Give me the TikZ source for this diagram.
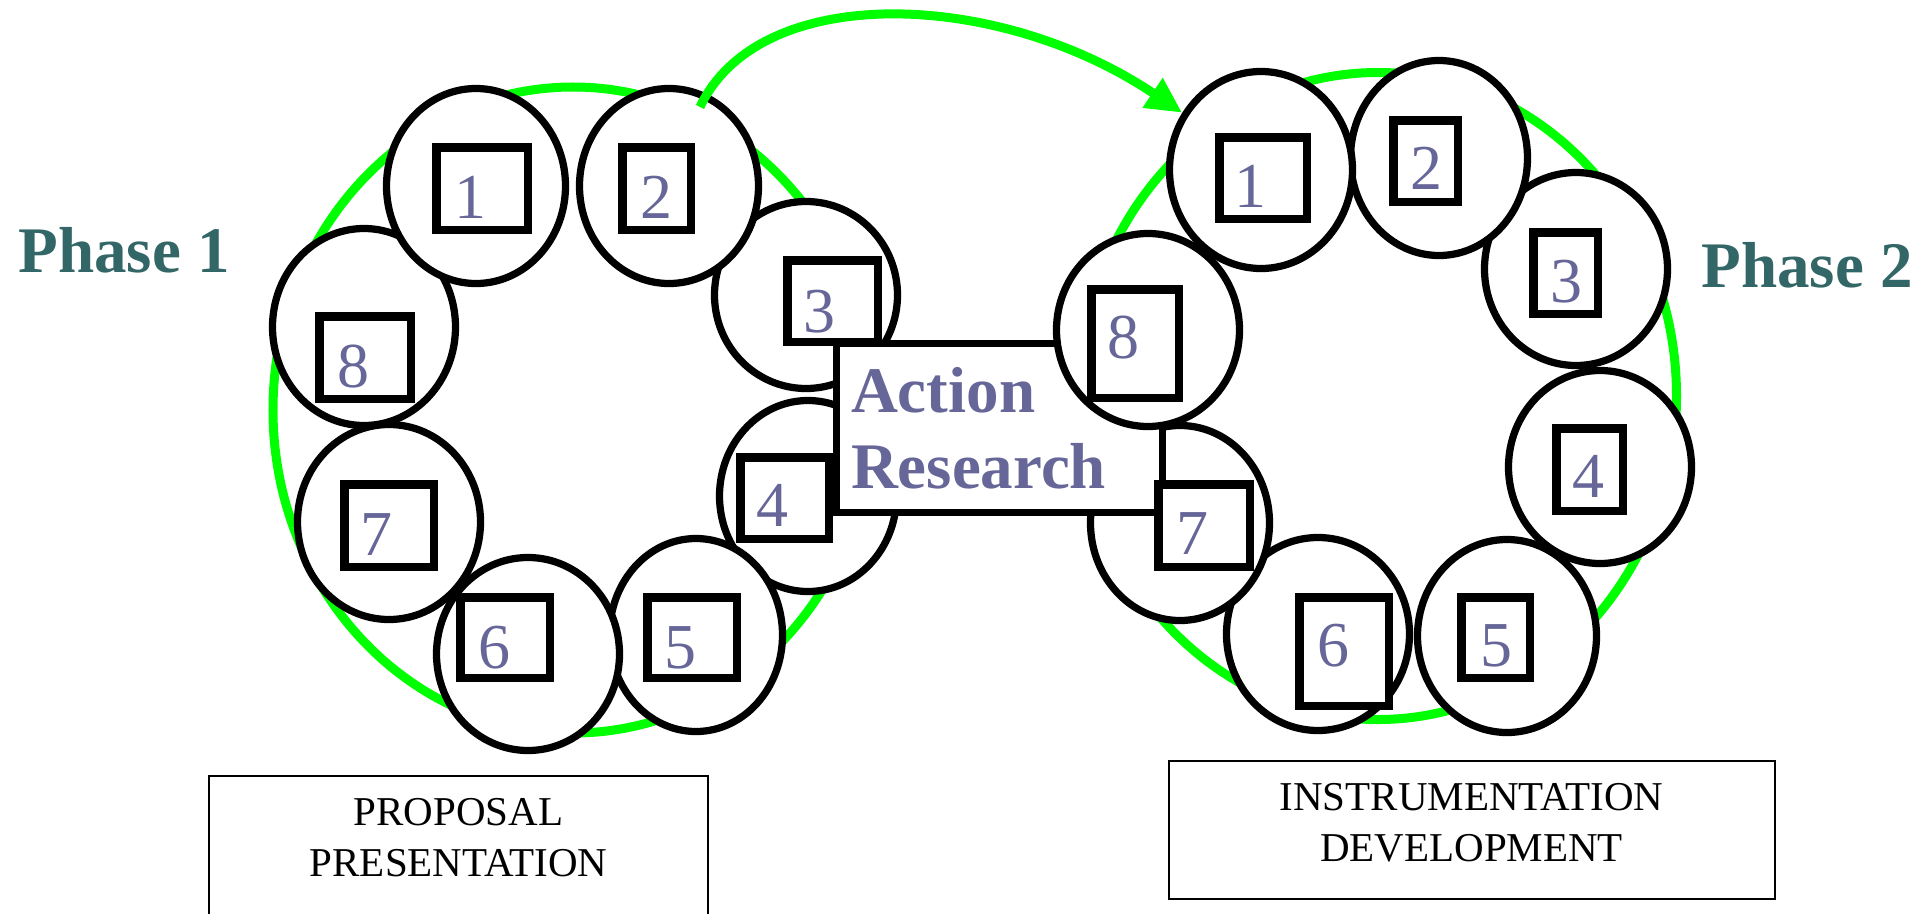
\documentclass[tikz,border=0pt]{standalone}
\usepackage{fontspec}
\setmainfont{Liberation Serif}
\usetikzlibrary{shapes.geometric,arrows.meta,calc}
\definecolor{phasecol}{HTML}{336666}
\definecolor{numcol}{HTML}{666699}
\definecolor{ringgreen}{HTML}{00FF00}
\tikzset{
  ring/.style={draw=ringgreen, line width=3.6pt, ellipse, inner sep=0pt},
  greenline/.style={draw=ringgreen, line width=3.6pt},
  bub/.style 2 args={draw=black, line width=2.9pt, fill=white, ellipse, inner sep=0pt, minimum width=#1pt, minimum height=#2pt},
  numbox/.style 2 args={draw=black, line width=3.4pt, fill=white, rectangle, inner sep=0pt, minimum width=#1pt, minimum height=#2pt},
  digit/.style={text=numcol, font=\fontsize{25.6}{25.6}\selectfont, inner sep=0pt, anchor=base},
  arbox/.style={draw=black, line width=2.9pt, fill=white, rectangle, minimum width=130.4pt, minimum height=67.6pt, text width=118.8pt, inner xsep=5.8pt, inner ysep=2pt, align=left, text=numcol, font=\bfseries\fontsize{26}{30.4}\selectfont},
  phase/.style={text=phasecol, font=\bfseries\fontsize{26}{26}\selectfont, inner sep=0pt, anchor=base west},
  labbox/.style={draw=black, line width=0.8pt, fill=white, rectangle, inner sep=0pt},
  labtext/.style={font=\fontsize{16.4}{20.4}\selectfont, align=center, inner sep=0pt}
}
\begin{document}
\begin{tikzpicture}[x=0.4pt, y=-0.4pt]
\useasboundingbox (0,0) rectangle (1915,914);
\clip (0,0) rectangle (1915,914);
% green rings
\node[ring, minimum width=240pt, minimum height=258.4pt] (ringL) at (573,410) {};
\node[ring, minimum width=238.8pt, minimum height=258.8pt] (ringR) at (1378,396) {};
% left bubbles
\node[bub={73.2}{74.8}] (le3) at (806,295) {};
\node[bub={70.8}{76.4}] (le4) at (808,496) {};
\node[bub={69.2}{77.2}] (le5) at (696,635) {};
\node[bub={73.2}{77.2}] (le6) at (528,654) {};
\node[bub={73.2}{78.0}] (le7) at (389,522) {};
\node[bub={73.2}{78.8}] (le8) at (364,327) {};
\node[bub={71.6}{78.0}] (le1) at (476,186) {};
\node[bub={71.6}{78.0}] (le2) at (669,186) {};
% right bubbles
\node[bub={73.2}{77.2}] (re4) at (1600,467) {};
\node[bub={71.6}{77.2}] (re5) at (1507,636) {};
\node[bub={73.2}{77.2}] (re6) at (1318,634) {};
\node[bub={71.6}{78.0}] (re7) at (1180,523) {};
% action research box
\node[arbox] (ar) at (999.5,428) {Action\\Research};
\node[bub={73.2}{77.2}] (re3) at (1576,269) {};
\node[bub={70.8}{78.0}] (re2) at (1439,158) {};
\node[bub={73.2}{78.8}] (re1) at (1261,170) {};
\node[bub={73.2}{77.2}] (re8) at (1148,330) {};
% left number boxes
\node[numbox={36.6}{33.0}] (lb1) at (482,188.5) {};
\node[numbox={27.4}{33.0}] (lb2) at (656.5,188.5) {};
\node[numbox={36.2}{32.6}] (lb3) at (832.5,301) {};
\node[numbox={35.4}{32.6}] (lb4) at (784.5,498) {};
\node[numbox={35.8}{32.2}] (lb5) at (692,637.5) {};
\node[numbox={35.8}{32.2}] (lb6) at (505,637.5) {};
\node[numbox={35.8}{33.0}] (lb7) at (389,525.5) {};
\node[numbox={36.6}{33.0}] (lb8) at (365,357.5) {};
\node[digit] (ld1) at (470,218) {1};
\node[digit] (ld2) at (656,218) {2};
\node[digit] (ld3) at (819,332) {3};
\node[digit] (ld4) at (772,526) {4};
\node[digit] (ld5) at (680,668) {5};
\node[digit] (ld6) at (494,668) {6};
\node[digit] (ld7) at (376,555) {7};
\node[digit] (ld8) at (353,387) {8};
% right number boxes
\node[numbox={35.0}{32.6}] (rb1) at (1263,178) {};
\node[numbox={25.8}{32.6}] (rb2) at (1425.5,161) {};
\node[numbox={25.8}{32.6}] (rb3) at (1565.5,273) {};
\node[numbox={26.6}{33.0}] (rb4) at (1589.5,469.5) {};
\node[numbox={27.4}{32.2}] (rb5) at (1495.5,637.5) {};
\node[numbox={35.8}{43.4}] (rb6) at (1344,651.5) {};
\node[numbox={36.6}{33.0}] (rb7) at (1204,525.5) {};
\node[numbox={35.0}{43.4}] (rb8) at (1135,343.5) {};
\node[digit] (rd1) at (1250,207) {1};
\node[digit] (rd2) at (1426,189) {2};
\node[digit] (rd3) at (1566,302) {3};
\node[digit] (rd4) at (1588,497) {4};
\node[digit] (rd5) at (1496,666) {5};
\node[digit] (rd6) at (1333,666) {6};
\node[digit] (rd7) at (1192,554) {7};
\node[digit] (rd8) at (1123,358) {8};
% phase labels
\node[phase] (ph1) at (18,272) {Phase 1};
\node[phase] (ph2) at (1701,287) {Phase 2};
% bottom label boxes
\node[labbox, minimum width=199.6pt, minimum height=65.6pt] (ppbox) at (458.5,858) {};
\node[labtext] (pptext) at (458.5,838) {PROPOSAL\\PRESENTATION};
\node[labbox, minimum width=242.4pt, minimum height=55.2pt] (idbox) at (1472,830) {};
\node[labtext] (idtext) at (1471.5,823) {INSTRUMENTATION\\DEVELOPMENT};
% green arrow from phase 1 to phase 2
\draw[greenline, -{Triangle[length=14.3pt,width=13.4pt]}, shorten <=-6pt] (le2.68) .. controls (760,-20) and (1000,-10) .. (re1.144);
\end{tikzpicture}
\end{document}
